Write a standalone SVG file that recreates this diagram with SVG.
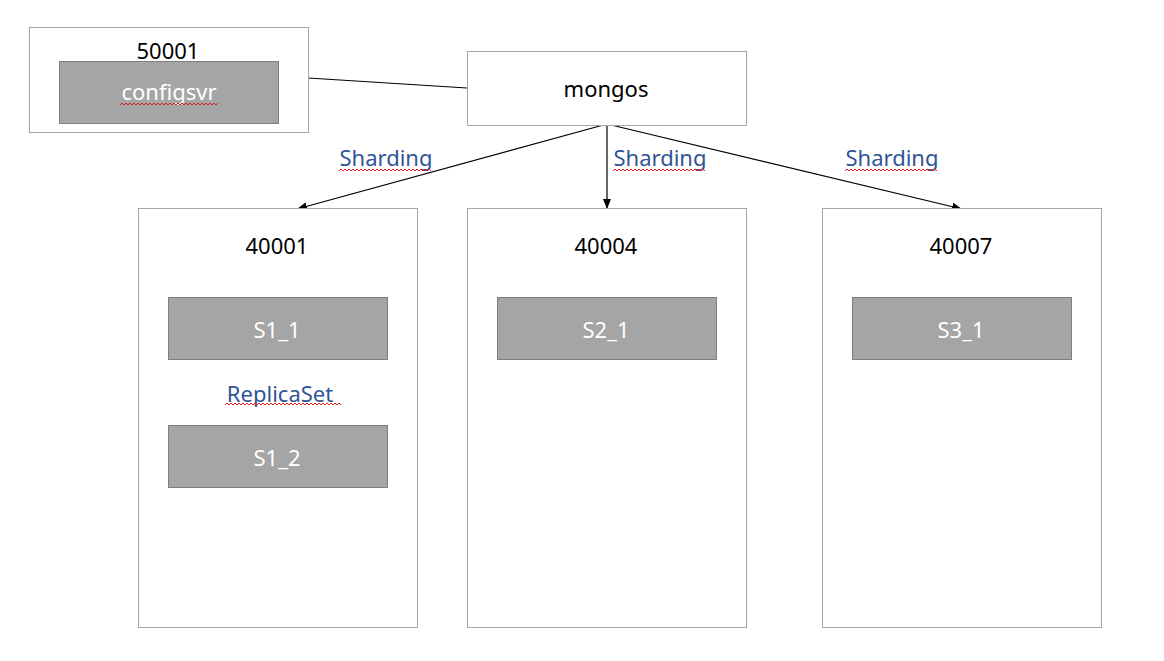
<svg xmlns="http://www.w3.org/2000/svg" width="1164" height="661" viewBox="0 0 1164 661">
<defs>
<marker id="arr" viewBox="0 0 10 10" refX="10" refY="5" markerWidth="10" markerHeight="10" markerUnits="userSpaceOnUse" orient="auto">
<path d="M0,1 L10,5 L0,9 Z" fill="#000"/>
</marker>
<style>
.box{fill:#fff;stroke:#a6a6a6;stroke-width:1}
.gray{fill:#a5a5a5;stroke:#7f7f7f;stroke-width:1}
.t{font-family:"Noto Sans","Open Sans","DejaVu Sans",sans-serif;font-size:22px;text-anchor:middle}
.blk{fill:#000}
.wht{fill:#fff}
.blu{fill:#2f5597}
.sq{fill:none;stroke:#e02020;stroke-width:1}
.ln{stroke:#000;stroke-width:1.2;fill:none}
</style>
</defs>
<rect width="1164" height="661" fill="#fff"/>
<g id="connectors">
<line class="ln" x1="308" y1="78" x2="467" y2="88"/>
<line class="ln" x1="607" y1="124" x2="297" y2="209" marker-end="url(#arr)"/>
<line class="ln" x1="607" y1="124" x2="607" y2="209" marker-end="url(#arr)"/>
<line class="ln" x1="607" y1="124" x2="962" y2="209" marker-end="url(#arr)"/>
</g>
<g id="configsvr-host">
<rect class="box" x="29.5" y="27.5" width="279" height="105"/>
<text class="t blk" x="168" y="59">50001</text>
</g>
<g id="configsvr">
<rect class="gray" x="59.5" y="61.5" width="219" height="62"/>
<text class="t wht" x="169" y="100">configsvr</text>
<path class="sq" d="M120,105 l2,-2 l2,2 l2,-2 l2,2 l2,-2 l2,2 l2,-2 l2,2 l2,-2 l2,2 l2,-2 l2,2 l2,-2 l2,2 l2,-2 l2,2 l2,-2 l2,2 l2,-2 l2,2 l2,-2 l2,2 l2,-2 l2,2 l2,-2 l2,2 l2,-2 l2,2 l2,-2 l2,2 l2,-2 l2,2 l2,-2 l2,2 l2,-2 l2,2 l2,-2 l2,2 l2,-2 l2,2 l2,-2 l2,2 l2,-2 l2,2 l2,-2 l2,2 l2,-2 l2,2 l2,-2"/>
</g>
<g id="mongos">
<rect class="box" x="467.5" y="51.5" width="279" height="74"/>
<text class="t blk" x="606" y="97">mongos</text>
</g>
<g id="labels">
<text class="t blu" x="386" y="166">Sharding</text>
<path class="sq" d="M339,171 l2,-2 l2,2 l2,-2 l2,2 l2,-2 l2,2 l2,-2 l2,2 l2,-2 l2,2 l2,-2 l2,2 l2,-2 l2,2 l2,-2 l2,2 l2,-2 l2,2 l2,-2 l2,2 l2,-2 l2,2 l2,-2 l2,2 l2,-2 l2,2 l2,-2 l2,2 l2,-2 l2,2 l2,-2 l2,2 l2,-2 l2,2 l2,-2 l2,2 l2,-2 l2,2 l2,-2 l2,2 l2,-2 l2,2 l2,-2 l2,2 l2,-2 l2,2"/>
<text class="t blu" x="660" y="166">Sharding</text>
<path class="sq" d="M613,171 l2,-2 l2,2 l2,-2 l2,2 l2,-2 l2,2 l2,-2 l2,2 l2,-2 l2,2 l2,-2 l2,2 l2,-2 l2,2 l2,-2 l2,2 l2,-2 l2,2 l2,-2 l2,2 l2,-2 l2,2 l2,-2 l2,2 l2,-2 l2,2 l2,-2 l2,2 l2,-2 l2,2 l2,-2 l2,2 l2,-2 l2,2 l2,-2 l2,2 l2,-2 l2,2 l2,-2 l2,2 l2,-2 l2,2 l2,-2 l2,2 l2,-2 l2,2"/>
<text class="t blu" x="892" y="166">Sharding</text>
<path class="sq" d="M845,171 l2,-2 l2,2 l2,-2 l2,2 l2,-2 l2,2 l2,-2 l2,2 l2,-2 l2,2 l2,-2 l2,2 l2,-2 l2,2 l2,-2 l2,2 l2,-2 l2,2 l2,-2 l2,2 l2,-2 l2,2 l2,-2 l2,2 l2,-2 l2,2 l2,-2 l2,2 l2,-2 l2,2 l2,-2 l2,2 l2,-2 l2,2 l2,-2 l2,2 l2,-2 l2,2 l2,-2 l2,2 l2,-2 l2,2 l2,-2 l2,2 l2,-2 l2,2"/>
</g>
<g id="shard1">
<rect class="box" x="138.5" y="208.5" width="279" height="419"/>
<text class="t blk" x="277" y="254">40001</text>
</g>
<g id="s1_1">
<rect class="gray" x="168.5" y="297.5" width="219" height="62"/>
<text class="t wht" x="277" y="338">S1_1</text>
</g>
<g id="replicaset-label">
<text class="t blu" x="280" y="402">ReplicaSet</text>
<path class="sq" d="M225,405 l2,-2 l2,2 l2,-2 l2,2 l2,-2 l2,2 l2,-2 l2,2 l2,-2 l2,2 l2,-2 l2,2 l2,-2 l2,2 l2,-2 l2,2 l2,-2 l2,2 l2,-2 l2,2 l2,-2 l2,2 l2,-2 l2,2 l2,-2 l2,2 l2,-2 l2,2 l2,-2 l2,2 l2,-2 l2,2 l2,-2 l2,2 l2,-2 l2,2 l2,-2 l2,2 l2,-2 l2,2 l2,-2 l2,2 l2,-2 l2,2 l2,-2 l2,2 l2,-2 l2,2 l2,-2 l2,2 l2,-2 l2,2 l2,-2 l2,2 l2,-2 l2,2 l2,-2 l2,2"/>
</g>
<g id="s1_2">
<rect class="gray" x="168.5" y="425.5" width="219" height="62"/>
<text class="t wht" x="277" y="466">S1_2</text>
</g>
<g id="shard2">
<rect class="box" x="467.5" y="208.5" width="279" height="419"/>
<text class="t blk" x="606" y="254">40004</text>
</g>
<g id="s2_1">
<rect class="gray" x="497.5" y="297.5" width="219" height="62"/>
<text class="t wht" x="606" y="338">S2_1</text>
</g>
<g id="shard3">
<rect class="box" x="822.5" y="208.5" width="279" height="419"/>
<text class="t blk" x="961" y="254">40007</text>
</g>
<g id="s3_1">
<rect class="gray" x="852.5" y="297.5" width="219" height="62"/>
<text class="t wht" x="961" y="338">S3_1</text>
</g>
</svg>
